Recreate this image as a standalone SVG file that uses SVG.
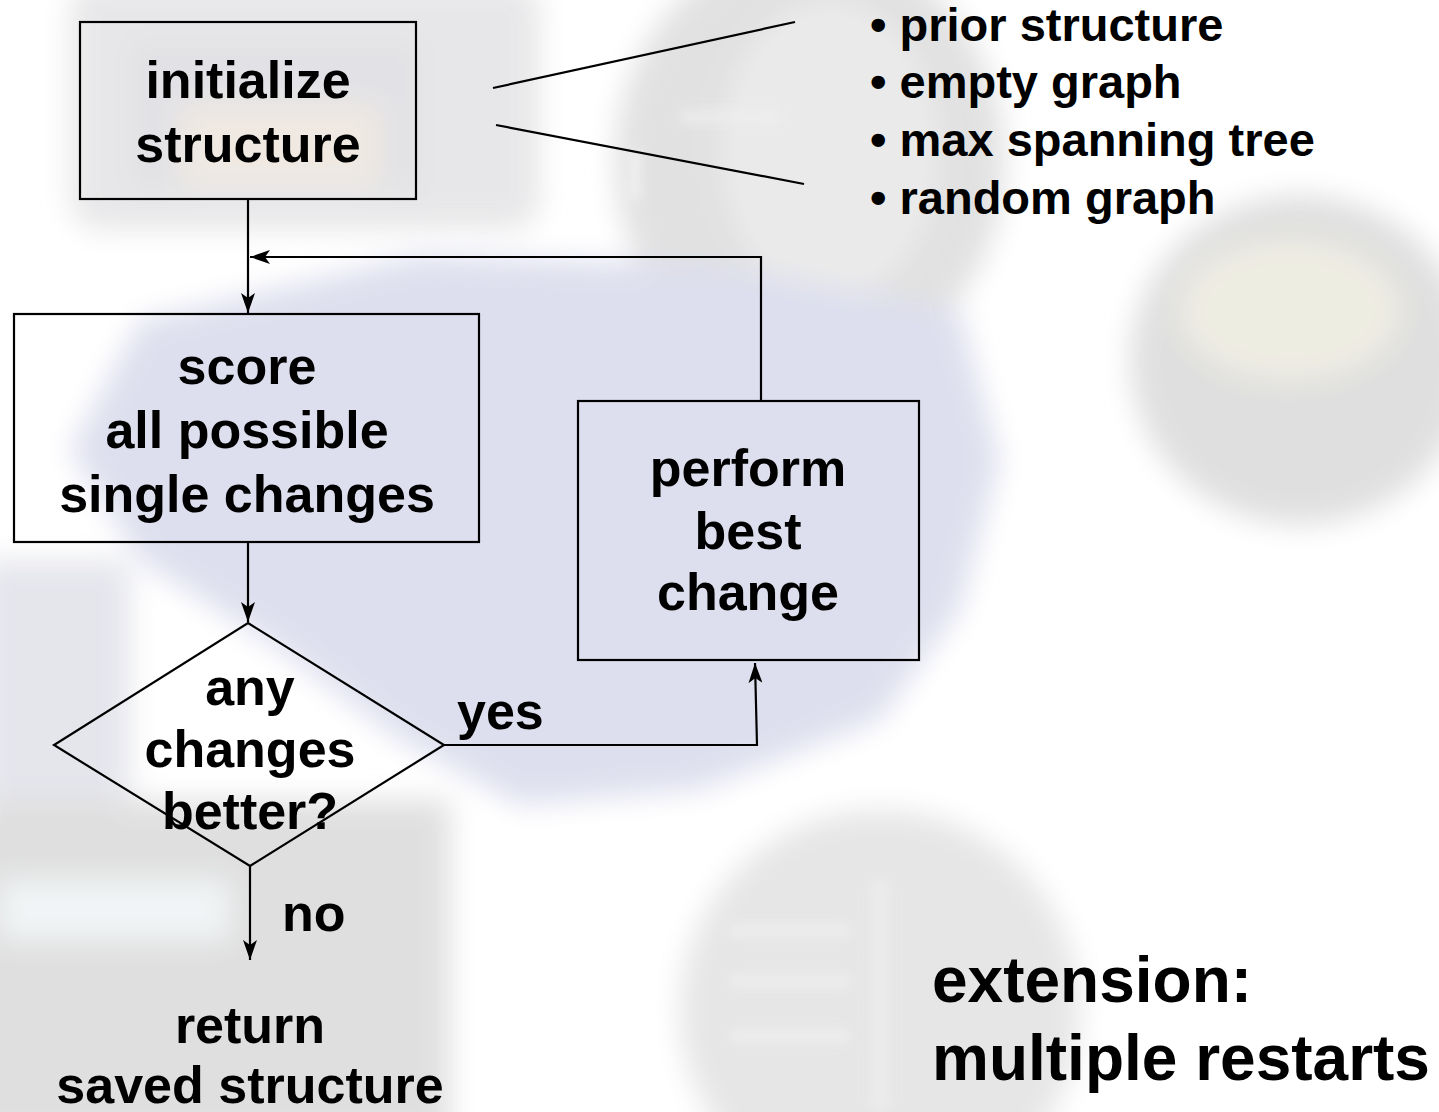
<svg xmlns="http://www.w3.org/2000/svg" width="1439" height="1112" viewBox="0 0 1439 1112">
  <defs>
    <style>
      .lbl { font-family: "Liberation Sans", Arial, Helvetica, sans-serif; font-weight: bold; fill: #000; }
      .ctr { text-anchor: middle; font-size: 52px; }
      .bul { font-size: 47px; }
      .big { font-size: 64px; }
      .box { fill: none; stroke: #000; stroke-width: 2.2; }
      .edge { fill: none; stroke: #000; stroke-width: 2.2; }
    </style>
    <filter id="soft" x="-20%" y="-20%" width="140%" height="140%">
      <feGaussianBlur stdDeviation="14"/>
    </filter>
    <filter id="softer" x="-20%" y="-20%" width="140%" height="140%">
      <feGaussianBlur stdDeviation="6"/>
    </filter>
    <marker id="arrow" markerUnits="userSpaceOnUse" markerWidth="22" markerHeight="14"
            refX="20" refY="7" orient="auto">
      <path d="M0,0 L20,7 L0,14 L5,7 Z" fill="#000"/>
    </marker>
  </defs>

  <!-- washed-out backdrop -->
  <g id="backdrop">
    <rect x="0" y="0" width="1439" height="1112" fill="#ffffff"/>
    <g filter="url(#soft)" opacity="0.8">
      <!-- upper left panel behind the first step -->
      <rect x="70" y="-20" width="470" height="250" rx="30" fill="#e2e2e4"/>
      <rect x="130" y="40" width="290" height="150" fill="#dcdce0"/>
      <rect x="180" y="105" width="200" height="80" fill="#ece4dc"/>
      <!-- upper middle disc -->
      <ellipse cx="810" cy="160" rx="195" ry="215" fill="#dadada"/>
      <ellipse cx="830" cy="150" rx="110" ry="150" fill="#e6e6e6"/>
      <!-- right disc -->
      <ellipse cx="1300" cy="360" rx="170" ry="165" fill="#d8d8d8"/>
      <ellipse cx="1290" cy="310" rx="110" ry="70" fill="#ebe9dc"/>
      <!-- lavender map shape across the middle -->
      <path d="M140,320 L420,255 L720,265 L960,310 L1000,460 L960,610 L880,720 L700,790 L520,805 L400,740 L280,650 L140,560 L70,450 Z" fill="#d6d8ea"/>
      <!-- left edge streaks -->
      <rect x="-20" y="560" width="150" height="330" fill="#dfe0e8"/>
      <!-- lower left panel -->
      <rect x="-30" y="800" width="480" height="340" fill="#d8d8d8"/>
      <rect x="0" y="880" width="230" height="60" fill="#eef3f4"/>
      <!-- lower middle disc -->
      <ellipse cx="880" cy="1010" rx="200" ry="200" fill="#e0e0e0"/>
    </g>
    <g filter="url(#softer)" opacity="0.7">
      <rect x="730" y="925" width="120" height="12" fill="#f2f2f2"/>
      <rect x="730" y="975" width="120" height="12" fill="#f2f2f2"/>
      <rect x="730" y="1030" width="120" height="12" fill="#f2f2f2"/>
      <rect x="870" y="880" width="20" height="230" fill="#eeeeee"/>
      <rect x="680" y="110" width="100" height="14" fill="#f0f0f0"/>
      <rect x="630" y="150" width="10" height="50" fill="#f7f7f7"/>
    </g>
  </g>

  <!-- connectors -->
  <g id="connectors">
    <line class="edge" x1="248" y1="199" x2="248" y2="313" marker-end="url(#arrow)"/>
    <polyline class="edge" points="761,401 761,257 250,257" marker-end="url(#arrow)"/>
    <line class="edge" x1="248" y1="542" x2="248" y2="622" marker-end="url(#arrow)"/>
    <polyline class="edge" points="444,745 757,745 755,663" marker-end="url(#arrow)"/>
    <line class="edge" x1="250" y1="866" x2="250" y2="960" marker-end="url(#arrow)"/>
    <line class="edge" x1="493" y1="88" x2="795" y2="22"/>
    <line class="edge" x1="496" y1="125" x2="804" y2="184"/>
  </g>

  <!-- nodes -->
  <g id="node-init">
    <rect class="box" x="80" y="22" width="336" height="177"/>
    <text class="lbl ctr" x="248" y="98">initialize</text>
    <text class="lbl ctr" x="248" y="162">structure</text>
  </g>

  <g id="node-options">
    <text class="lbl bul" x="870" y="41">• prior structure</text>
    <text class="lbl bul" x="870" y="98">• empty graph</text>
    <text class="lbl bul" x="870" y="156">• max spanning tree</text>
    <text class="lbl bul" x="870" y="214">• random graph</text>
  </g>

  <g id="node-score">
    <rect class="box" x="14" y="314" width="465" height="228"/>
    <text class="lbl ctr" x="247" y="384">score</text>
    <text class="lbl ctr" x="247" y="448">all possible</text>
    <text class="lbl ctr" x="247" y="512">single changes</text>
  </g>

  <g id="node-decision">
    <polygon class="box" points="248,623 444,745 250,866 54,745"/>
    <text class="lbl ctr" x="250" y="705">any</text>
    <text class="lbl ctr" x="250" y="767">changes</text>
    <text class="lbl ctr" x="250" y="829">better?</text>
  </g>

  <g id="node-perform">
    <rect class="box" x="578" y="401" width="341" height="259"/>
    <text class="lbl ctr" x="748" y="486">perform</text>
    <text class="lbl ctr" x="748" y="549">best</text>
    <text class="lbl ctr" x="748" y="610">change</text>
  </g>

  <g id="edge-labels">
    <text class="lbl" x="457" y="729" font-size="52">yes</text>
    <text class="lbl" x="282" y="931" font-size="52">no</text>
  </g>

  <g id="node-return">
    <text class="lbl ctr" x="250" y="1043">return</text>
    <text class="lbl ctr" x="250" y="1103">saved structure</text>
  </g>

  <g id="note-extension">
    <text class="lbl big" x="932" y="1002">extension:</text>
    <text class="lbl big" x="932" y="1080">multiple restarts</text>
  </g>
</svg>
